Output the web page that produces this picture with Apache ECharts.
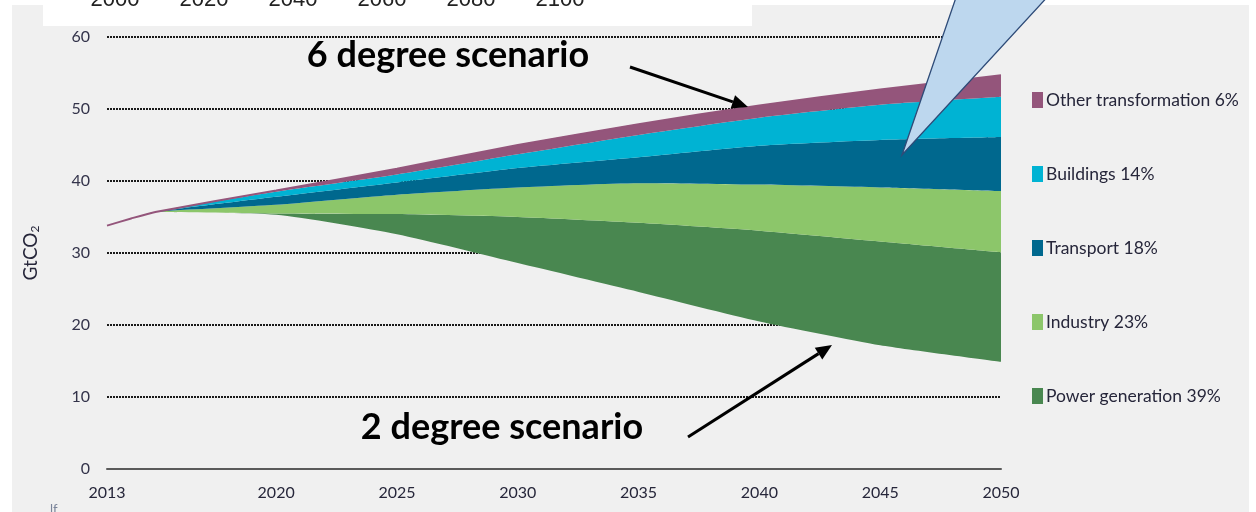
<!DOCTYPE html>
<html>
<head>
<meta charset="utf-8">
<script src="https://cdn.jsdelivr.net/npm/echarts@6/dist/echarts.min.js"></script>
<style>
  html, body { margin: 0; padding: 0; background: #ffffff; }
  #chart { width: 1256px; height: 512px; }
</style>
</head>
<body>
<div id="chart"></div>
<script>
// Years at which the emission pathways are given
const years = [2013, 2014, 2015, 2020, 2025, 2030, 2035, 2040, 2045, 2050];

// 2 degree scenario pathway (GtCO2) – the lower edge of the wedges
const twoDegree = [33.8, 34.8, 35.7, 35.3, 32.6, 28.6, 24.6, 20.5, 17.2, 14.9];

// Reduction wedges between the 6 degree and the 2 degree scenario (GtCO2)
const powerGeneration = [0, 0, 0, 0.2, 2.8, 6.4, 9.6, 12.6, 14.4, 15.2];
const industry        = [0, 0, 0, 1.2, 2.7, 4.1, 5.5, 6.4, 7.5, 8.5];
const transport       = [0, 0, 0, 1.1, 1.7, 2.7, 3.6, 5.4, 6.6, 7.5];
const buildings       = [0, 0, 0, 0.7, 1.1, 1.9, 3.1, 3.9, 4.9, 5.6];
const otherTransform  = [0, 0, 0, 0.2, 0.8, 1.3, 1.5, 1.7, 2.1, 3.0];

// Sector names shown in the legend
const sectorNames = [
  'Power generation 39%',
  'Industry 23%',
  'Transport 18%',
  'Buildings 14%',
  'Other transformation 6%'
];
const sectorColors = ['#498750', '#8cc66a', '#00688e', '#00b3d3', '#94557b'];

// Tick labels
const xTickLabels = [2013, 2020, 2025, 2030, 2035, 2040, 2045, 2050];
const yTicks = [0, 10, 20, 30, 40, 50, 60];

// Labels of the year axis peeking in at the top
const topStripLabels = ['2000', '2020', '2040', '2060', '2080', '2100'];

const uiFont = 'Lato, "Open Sans", sans-serif';

// Rows are [value, year]; the value column comes first so it is the stacked one
const toRows = arr => years.map((y, i) => [arr[i], y]);

const sectorData = [powerGeneration, industry, transport, buildings, otherTransform];

const series = [
  {
    name: '2 degree scenario',
    type: 'line',
    stack: 'total',
    data: toRows(twoDegree),
    encode: { x: 1, y: 0 },
    smooth: 0.2,
    showSymbol: false,
    lineStyle: { width: 0, opacity: 0 },
    silent: true,
    z: 2
  }
].concat(sectorData.map((arr, k) => ({
  name: sectorNames[k],
  type: 'line',
  stack: 'total',
  data: toRows(arr),
  encode: { x: 1, y: 0 },
  smooth: 0.2,
  showSymbol: false,
  itemStyle: { color: sectorColors[k] },
  lineStyle: k === sectorData.length - 1
    ? { width: 2, color: sectorColors[k] }
    : { width: 0, opacity: 0 },
  areaStyle: { color: sectorColors[k], opacity: 1 },
  z: 3 + k
})));

// Arrow made of a shaft and a filled head
function arrow(x1, y1, x2, y2) {
  const ang = Math.atan2(y2 - y1, x2 - x1);
  const hl = 16, hw = 7;
  const bx = x2 - hl * Math.cos(ang), by = y2 - hl * Math.sin(ang);
  const px = -Math.sin(ang) * hw, py = Math.cos(ang) * hw;
  return [
    { type: 'line', z: 120, shape: { x1: x1, y1: y1, x2: bx, y2: by },
      style: { stroke: '#000', lineWidth: 3 } },
    { type: 'polygon', z: 120,
      shape: { points: [[x2, y2], [bx + px, by + py], [bx - px, by - py]] },
      style: { fill: '#000' } }
  ];
}

const graphics = [
  // panel background
  { type: 'rect', z: -20, shape: { x: 12, y: 5, width: 1237, height: 507 },
    style: { fill: '#f0f0f0' } },
  // white strip at the top
  { type: 'rect', z: -19, shape: { x: 43, y: 0, width: 709, height: 26 },
    style: { fill: '#ffffff' } }
].concat(topStripLabels.map((t, i) => ({
  type: 'text', z: -18,
  style: { x: 115 + i * 89, y: 0, text: t, fill: '#222', align: 'center',
           verticalAlign: 'middle', font: '22px "Liberation Sans", Arial, sans-serif' }
}))).concat([
  // callout pointer
  { type: 'polygon', z: 110,
    shape: { points: [[902, 155], [962, -20], [1063, -20]] },
    style: { fill: '#bdd7ee', stroke: '#2e4b78', lineWidth: 1.3 } },
  // scenario captions
  { type: 'text', z: 120,
    style: { x: 448, y: 55, text: '6 degree scenario', fill: '#000', align: 'center',
             verticalAlign: 'middle', font: 'bold 36px ' + uiFont } },
  { type: 'text', z: 120,
    style: { x: 502, y: 427, text: '2 degree scenario', fill: '#000', align: 'center',
             verticalAlign: 'middle', font: 'bold 36px ' + uiFont } },
  { type: 'text', z: 120,
    style: { x: 50, y: 503, text: 'lf', fill: '#7a849a', font: '13px ' + uiFont } }
]).concat(arrow(630, 67, 748, 107)).concat(arrow(688, 437, 832, 345));

const chart = echarts.init(document.getElementById('chart'), null, { renderer: 'canvas' });

chart.setOption({
  backgroundColor: 'transparent',
  animation: false,
  grid: { left: 107, right: 255, top: 37, bottom: 43, containLabel: false },
  legend: {
    orient: 'vertical',
    left: 1032,
    top: 91,
    padding: 0,
    itemWidth: 11,
    itemHeight: 16,
    itemGap: 56,
    icon: 'rect',
    selectedMode: false,
    data: sectorNames.slice().reverse(),
    textStyle: { fontFamily: uiFont, fontSize: 17.5, color: '#26263a', padding: [0, 0, 0, -2] }
  },
  xAxis: {
    type: 'value',
    min: 2013,
    max: 2050,
    interval: 1,
    axisLine: { show: true, lineStyle: { color: '#5a5a5a', width: 2 } },
    axisTick: { show: false },
    splitLine: { show: false },
    axisLabel: {
      margin: 16,
      fontFamily: uiFont,
      fontSize: 16,
      color: '#26263a',
      formatter: v => (xTickLabels.indexOf(v) >= 0 ? String(v) : '')
    }
  },
  yAxis: {
    type: 'value',
    min: yTicks[0],
    max: yTicks[yTicks.length - 1],
    interval: 10,
    name: '{a|GtCO}{b|2}',
    nameLocation: 'middle',
    nameGap: 66,
    nameTextStyle: {
      rich: {
        a: { fontFamily: uiFont, fontSize: 19, color: '#26263a' },
        b: { fontFamily: uiFont, fontSize: 12, color: '#26263a', verticalAlign: 'bottom', padding: [9, 0, 0, 0] }
      }
    },
    axisLine: { show: false },
    axisTick: { show: false },
    axisLabel: { margin: 17, fontFamily: uiFont, fontSize: 16, color: '#33334a' },
    splitLine: {
      show: true,
      showMinLine: false,
      lineStyle: { color: '#1a1a1a', width: 2, type: [2, 1] }
    }
  },
  series: series,
  graphic: graphics
});
</script>
</body>
</html>
